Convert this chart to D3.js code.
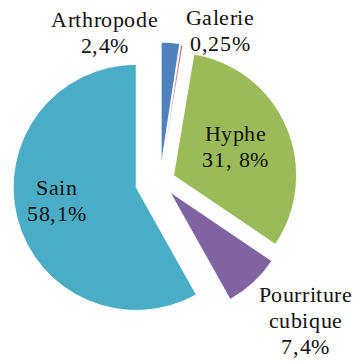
<!DOCTYPE html>
<html>
<head>
<meta charset="utf-8">
<script src="https://cdn.jsdelivr.net/npm/d3@7"></script>
<style>
  @font-face {
    font-family: "LabelSerif";
    src: local("Liberation Serif"), local("LiberationSerif"), local("LiberationSerif-Regular"), local("Tinos"), local("Times New Roman");
  }
  html, body { margin: 0; padding: 0; background: #fff; }
  svg { display: block; }
</style>
</head>
<body>
<div id="chart"></div>
<script>
// Share of samples per condition (percent)
const categories = ["Arthropode", "Galerie", "Hyphe", "Pourriture cubique", "Sain"];
const values = [2.4, 0.25, 31.8, 7.4, 58.1];
const valueLabels = ["2,4%", "0,25%", "31, 8%", "7,4%", "58,1%"];
const nameLines = [["Arthropode"], ["Galerie"], ["Hyphe"], ["Pourriture", "cubique"], ["Sain"]];

// Presentation settings
const colors = ["#4F81BD", "#C0504D", "#9BBB59", "#8064A2", "#4BACC6"];
const explode = [0.13, 0.12, 0.12, 0.12, 0.2];          // fraction of radius each slice is pulled out
const labelAngle = [339.6, 21.8, 65.5, 133.7, 259.2];    // degrees, clockwise from 12 o'clock
const labelRadius = [1.288, 1.316, 0.676, 1.638, 0.853]; // fraction of radius
const labelFont = '"LabelSerif", "Liberation Serif", "Tinos", "Times New Roman", "FreeSerif", serif';

const width = 355, height = 361;
const cx = 160, cy = 181.2, R = 123;
const fontSize = 22, lineHeight = 26;

const svg = d3.select("#chart").append("svg")
  .attr("width", width).attr("height", height);

const g = svg.append("g").attr("transform", `translate(${cx},${cy})`);

const pie = d3.pie().sort(null).value(d => d).startAngle(0).endAngle(2 * Math.PI);
const arcs = pie(values);
const arc = d3.arc().innerRadius(0).outerRadius(R);

g.selectAll("path.slice")
  .data(arcs)
  .join("path")
  .attr("class", "slice")
  .attr("d", arc)
  .attr("fill", (d, i) => colors[i])
  .attr("stroke", "#fff")
  .attr("stroke-width", 0.8)
  .attr("transform", (d, i) => {
    const mid = (d.startAngle + d.endAngle) / 2;
    const [dx, dy] = d3.pointRadial(mid, explode[i] * R);
    return `translate(${dx},${dy})`;
  });

// Labels: category name lines followed by the percentage
const labels = g.selectAll("text.label")
  .data(arcs)
  .join("text")
  .attr("class", "label")
  .attr("text-anchor", "middle")
  .style("font-family", labelFont)
  .style("font-size", fontSize + "px")
  .attr("letter-spacing", 0.6)
  .attr("fill", "#111");

labels.each(function (d, i) {
  const lines = nameLines[i].concat([valueLabels[i]]);
  const [x, y] = d3.pointRadial(labelAngle[i] * Math.PI / 180, labelRadius[i] * R);
  const firstBaseline = y + 7.5 - (lines.length - 1) * lineHeight / 2;
  d3.select(this).selectAll("tspan")
    .data(lines)
    .join("tspan")
    .style("font-family", labelFont)
    .attr("x", x)
    .attr("y", (t, k) => firstBaseline + k * lineHeight)
    .text(t => t);
});

// measure once so the label face is resolved during this pass
labels.nodes().forEach(n => n.getBBox());
if (document.fonts && document.fonts.load) {
  document.fonts.load(`${fontSize}px "LabelSerif"`).then(() => {
    labels.style("font-family", labelFont);
  });
}
</script>
</body>
</html>
